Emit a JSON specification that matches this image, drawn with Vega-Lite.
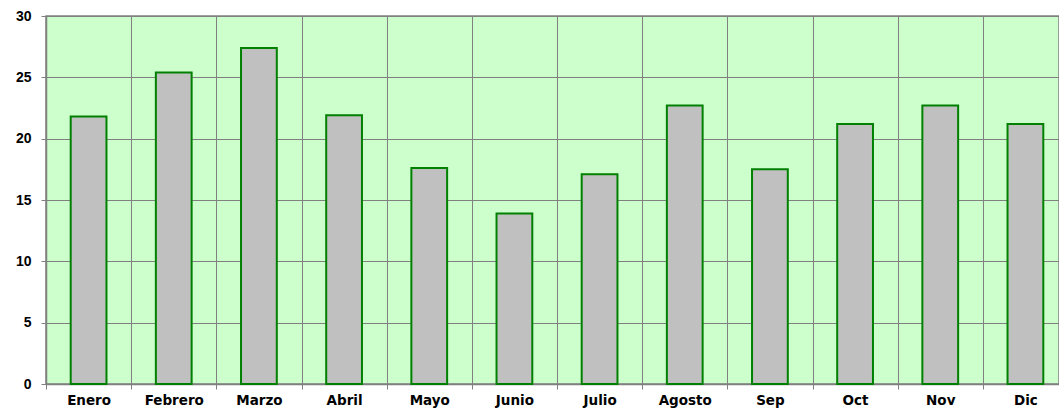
{
  "$schema": "https://vega.github.io/schema/vega-lite/v6.json",
  "autosize": {"type": "none"},
  "padding": {"left": 46, "top": 16, "right": 0, "bottom": 26},
  "width": 1013,
  "height": 368,
  "background": "white",
  "config": {
    "view": {"fill": "#CCFFCC", "stroke": "#808080", "strokeWidth": 1.5},
    "font": "Liberation Sans"
  },
  "data": {
    "values": [
      {"mes": "Enero", "valor": 21.8},
      {"mes": "Febrero", "valor": 25.4},
      {"mes": "Marzo", "valor": 27.4},
      {"mes": "Abril", "valor": 21.9},
      {"mes": "Mayo", "valor": 17.6},
      {"mes": "Junio", "valor": 13.9},
      {"mes": "Julio", "valor": 17.1},
      {"mes": "Agosto", "valor": 22.7},
      {"mes": "Sep", "valor": 17.5},
      {"mes": "Oct", "valor": 21.2},
      {"mes": "Nov", "valor": 22.7},
      {"mes": "Dic", "valor": 21.2}
    ]
  },
  "mark": {"type": "bar", "fill": "#C0C0C0", "stroke": "#008000", "strokeWidth": 2, "width": {"band": 0.42}},
  "encoding": {
    "x": {
      "field": "mes",
      "type": "nominal",
      "sort": null,
      "scale": {"range": [0, 1022], "paddingInner": 0, "paddingOuter": 0},
      "axis": {
        "title": null,
        "labelAngle": 0,
        "labelFont": "DejaVu Sans",
        "labelFontWeight": "bold",
        "labelFontSize": 13.5,
        "labelColor": "#000000",
        "labelPadding": 4,
        "tickBand": "extent",
        "tickSize": 5,
        "tickColor": "#808080",
        "domainColor": "#808080",
        "domainWidth": 1.5,
        "grid": true,
        "gridColor": "#808080",
        "gridWidth": 1,
        "gridOpacity": 1
      }
    },
    "y": {
      "field": "valor",
      "type": "quantitative",
      "scale": {"domain": [0, 30], "nice": false},
      "axis": {
        "title": null,
        "values": [0, 5, 10, 15, 20, 25, 30],
        "labelFont": "Liberation Sans",
        "labelFontWeight": "bold",
        "labelFontSize": 14,
        "labelColor": "#000000",
        "labelPadding": 10,
        "tickSize": 5,
        "tickColor": "#808080",
        "domainColor": "#808080",
        "domainWidth": 1.5,
        "grid": true,
        "gridColor": "#808080",
        "gridWidth": 1,
        "gridOpacity": 1
      }
    }
  }
}
